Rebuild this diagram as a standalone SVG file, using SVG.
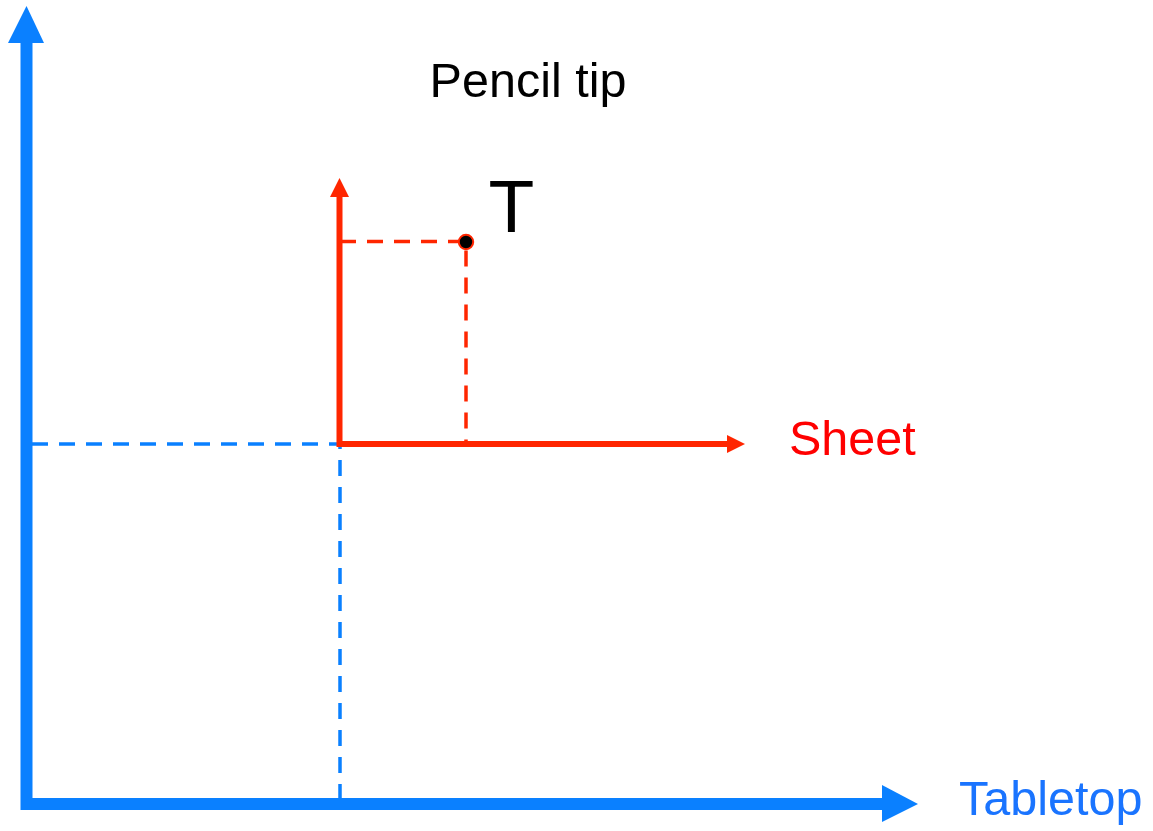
<svg xmlns="http://www.w3.org/2000/svg" width="1153" height="831" viewBox="0 0 1153 831">
<style>
.blue{stroke:#0a80ff;fill:none}
.bluef{fill:#0a80ff}
.red{stroke:#ff2600;fill:none}
.redf{fill:#ff2600}
.dash{stroke-width:3.5;stroke-dasharray:16 11}
.lbl{font-family:"Liberation Sans",Arial,sans-serif;font-size:48.5px}
</style>
<rect width="1153" height="831" fill="#ffffff"/>
<g id="connectors">
<path class="blue dash" d="M32 444 H340 V804"/>
<path class="red dash" d="M340 241.5 H466 V444"/>
<path class="blue" stroke-width="12" d="M26.5 42 V804 H883"/>
<polygon class="bluef" points="8,43 26.5,6 44,43"/>
<polygon class="bluef" points="882,785 918,804 882,822"/>
<path class="red" stroke-width="6" d="M339.5 196 V444 H728"/>
<polygon class="redf" points="330,197 339.5,178 349,197"/>
<polygon class="redf" points="727,435 745,444 727,453"/>
</g>
<g id="point-T">
<circle cx="466" cy="242" r="7.2" fill="#000" stroke="#ff2600" stroke-width="2"/>
<text x="511.5" y="232" text-anchor="middle" style="font-family:'Liberation Sans',Arial,sans-serif;font-size:75px" fill="#000">T</text>
</g>
<g id="label-pencil">
<text class="lbl" x="528" y="97" text-anchor="middle" fill="#000">Pencil tip</text>
</g>
<g id="label-sheet">
<text class="lbl" x="789" y="455" fill="#ff0000">Sheet</text>
</g>
<g id="label-tabletop">
<text class="lbl" x="959" y="815" fill="#1a74ff">Tabletop</text>
</g>
</svg>
